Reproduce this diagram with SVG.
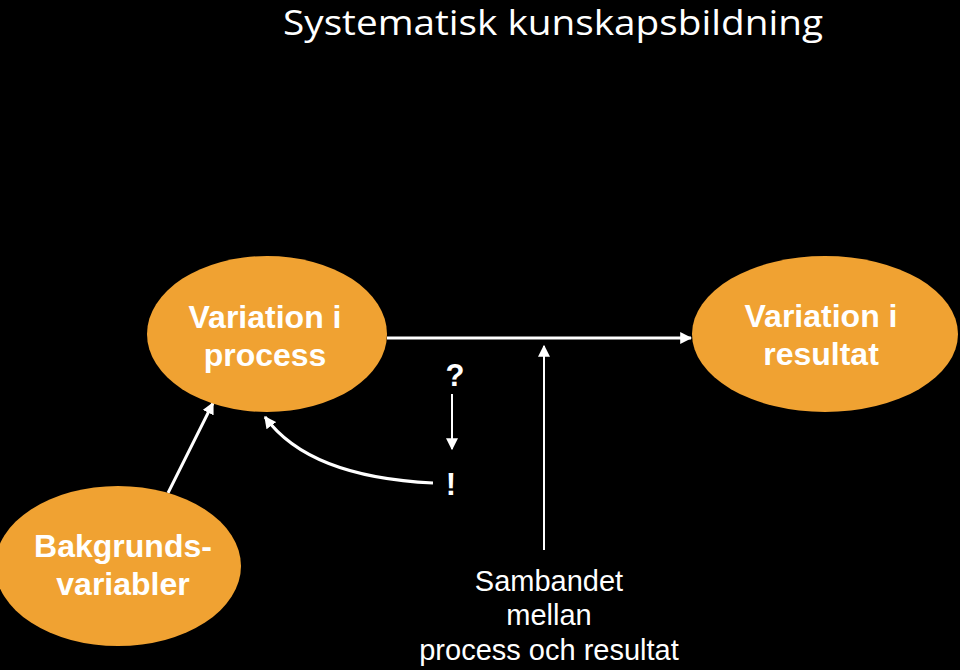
<svg xmlns="http://www.w3.org/2000/svg" width="960" height="670" viewBox="0 0 960 670">
<defs>
<style>
.node{fill:#F0A232;}
.nt{font-family:"Liberation Sans",Arial,sans-serif;font-weight:bold;font-size:32px;fill:#ffffff;text-anchor:middle;}
.lt{font-family:"Liberation Sans",Arial,sans-serif;font-size:29px;fill:#ffffff;text-anchor:middle;}
.mk{font-family:"Liberation Sans",Arial,sans-serif;font-weight:bold;font-size:31px;fill:#ffffff;text-anchor:middle;}
.c{stroke:#ffffff;fill:none;}
</style>
<marker id="ah" viewBox="0 0 10 10" refX="9" refY="5" markerWidth="4" markerHeight="4" markerUnits="strokeWidth" orient="auto">
<path d="M0,0 L10,5 L0,10 z" fill="#ffffff"/>
</marker>
<marker id="ahs" viewBox="0 0 10 10" refX="9" refY="5" markerWidth="6" markerHeight="6" markerUnits="strokeWidth" orient="auto">
<path d="M0,0 L10,5 L0,10 z" fill="#ffffff"/>
</marker>
</defs>
<rect width="960" height="670" fill="#000000"/>
<text x="553" y="35" font-family="'Open Sans','Noto Sans',sans-serif" font-size="35" fill="#ffffff" text-anchor="middle" textLength="540" lengthAdjust="spacingAndGlyphs">Systematisk kunskapsbildning</text>
<g id="connectors">
<line class="c" x1="387" y1="338" x2="691" y2="338" stroke-width="3" marker-end="url(#ah)"/>
<line class="c" x1="544" y1="550" x2="544" y2="346" stroke-width="2" marker-end="url(#ahs)"/>
<line class="c" x1="452" y1="394" x2="452" y2="449" stroke-width="2" marker-end="url(#ahs)"/>
<line class="c" x1="168" y1="493" x2="213" y2="403" stroke-width="3" marker-end="url(#ah)"/>
<path class="c" d="M433,483 C370,480 300,465 265,417" stroke-width="3" marker-end="url(#ah)"/>
</g>
<g id="process">
<ellipse class="node" cx="267" cy="334" rx="120" ry="78"/>
<text class="nt" x="265" y="328">Variation i</text>
<text class="nt" x="265" y="366">process</text>
</g>
<g id="resultat">
<ellipse class="node" cx="825" cy="334" rx="133" ry="78"/>
<text class="nt" x="821" y="327">Variation i</text>
<text class="nt" x="821" y="365">resultat</text>
</g>
<g id="bakgrund">
<ellipse class="node" cx="118" cy="566" rx="123" ry="80"/>
<text class="nt" x="123" y="557">Bakgrunds-</text>
<text class="nt" x="123" y="595">variabler</text>
</g>
<g id="marks">
<text class="mk" x="455" y="386">?</text>
<text class="mk" x="451" y="495">!</text>
</g>
<g id="label">
<text class="lt" x="549" y="591">Sambandet</text>
<text class="lt" x="549" y="625">mellan</text>
<text class="lt" x="549" y="660">process och resultat</text>
</g>
</svg>
